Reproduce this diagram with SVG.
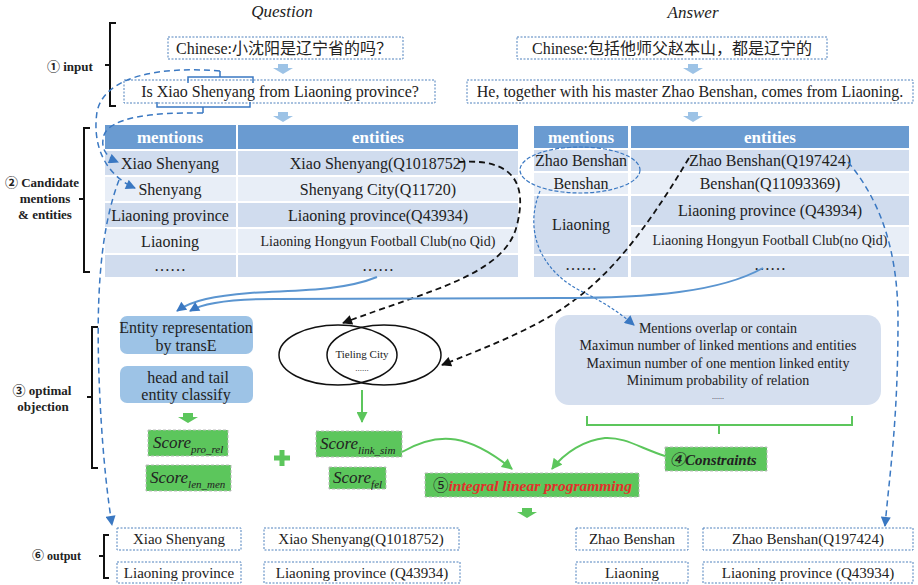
<svg xmlns="http://www.w3.org/2000/svg" width="918" height="585" viewBox="0 0 918 585">
<style>
.t{font-family:"Liberation Serif","Noto Sans CJK SC",serif;fill:#222;font-size:16px}
.c{text-anchor:middle}
.b{font-weight:bold}
.i{font-style:italic}
.hd{fill:#fff;font-weight:bold;font-size:17px}
.dk{fill:#D0DCEE}
.lt{fill:#E8EEF7}
.hb{fill:#6A9BD1}
.ib{fill:#fff;stroke:#4F81BD;stroke-width:1;stroke-dasharray:2,1.5}
.gb{fill:#5CC65C;stroke:#bbb;stroke-width:1;stroke-dasharray:3,2}
.rb{fill:#9DC3E6}
.cb{fill:#D5DFEF}
.bd{fill:none;stroke:#3A78C2;stroke-width:1.5;stroke-dasharray:6,4}
.bf{fill:none;stroke:#3A78C2;stroke-width:1.2;stroke-dasharray:3,2}
.bs{fill:none;stroke:#5B95D0;stroke-width:2}
.kd{fill:none;stroke:#111;stroke-width:1.8;stroke-dasharray:6,4}
.gl{fill:none;stroke:#5CC65C;stroke-width:2}
.br{fill:none;stroke:#111;stroke-width:2}
.bb{fill:none;stroke:#3A78C2;stroke-width:1.5}
.la{fill:#9DC3E6}
.ga{fill:#5CC65C}
</style>
<defs>
<marker id="ab" viewBox="0 0 10 10" refX="9" refY="5" markerWidth="11" markerHeight="10" markerUnits="userSpaceOnUse" orient="auto"><path d="M0,0 L10,5 L0,10 z" fill="#3A78C2"/></marker>
<marker id="ak" viewBox="0 0 10 10" refX="9" refY="5" markerWidth="11" markerHeight="10" markerUnits="userSpaceOnUse" orient="auto"><path d="M0,0 L10,5 L0,10 z" fill="#111"/></marker>
<marker id="ag" viewBox="0 0 10 10" refX="9" refY="5" markerWidth="12" markerHeight="11" markerUnits="userSpaceOnUse" orient="auto"><path d="M0,0 L10,5 L0,10 z" fill="#5CC65C"/></marker>
</defs>

<g id="titles">
<text class="t i c" x="282" y="17" style="font-size:17px">Question</text>
<text class="t i c" x="693" y="18" style="font-size:17px">Answer</text>
</g>

<g id="labels">
<path class="br" d="M116,23 H110 V106 H116 M110,65 H105"/>
<text class="t b" x="47" y="71" style="font-size:13px">① input</text>
<path class="br" d="M90,128 H84 V272 H90 M84,199 H79"/>
<text class="t b c" x="42" y="187" style="font-size:13px">② Candidate</text>
<text class="t b c" x="45" y="203" style="font-size:13px">mentions</text>
<text class="t b c" x="45" y="219" style="font-size:13px">&amp; entities</text>
<path class="br" d="M98,327 H92 V468 H98 M92,397 H87"/>
<text class="t b c" x="42" y="395" style="font-size:13px">③ optimal</text>
<text class="t b c" x="43" y="411" style="font-size:13px">objection</text>
<path class="br" d="M109,535 H104 V578 H109 M104,556 H99"/>
<text class="t b" x="32" y="560" style="font-size:12px">⑥ output</text>
</g>

<g id="q-input">
<rect class="ib" x="168" y="37" width="235" height="22"/>
<text class="t c" x="284" y="54">Chinese:小沈阳是辽宁省的吗？</text>
<path class="la" d="M278,64 h10 v4 h5 l-10,6 l-10,-6 h5 z"/>
<rect class="ib" x="124" y="80" width="311" height="23"/>
<text class="t c" x="280" y="97">Is Xiao Shenyang from Liaoning province?</text>
<path class="la" d="M278,112 h10 v4 h5 l-10,6 l-10,-6 h5 z"/>
<path class="bb" d="M188,83 V77 H253 V83 M220,77 V71"/>
<path class="bb" d="M157,102 V107 H250 V102 M203,107 V113"/>
</g>

<g id="a-input">
<rect class="ib" x="517" y="37" width="310" height="22"/>
<text class="t c" x="672" y="54">Chinese:包括他师父赵本山，都是辽宁的</text>
<path class="la" d="M688,64 h10 v4 h5 l-10,6 l-10,-6 h5 z"/>
<rect class="ib" x="467" y="80" width="446" height="23"/>
<text class="t c" x="690" y="97">He, together with his master Zhao Benshan, comes from Liaoning.</text>
<path class="la" d="M688,112 h10 v4 h5 l-10,6 l-10,-6 h5 z"/>
</g>

<g id="q-table">
<rect class="hb" x="105" y="125" width="131" height="24"/>
<rect class="hb" x="238" y="125" width="280" height="24"/>
<text class="t hd c" x="170" y="143">mentions</text>
<text class="t hd c" x="378" y="143">entities</text>
<rect class="dk" x="105" y="151" width="131" height="24"/><rect class="dk" x="238" y="151" width="280" height="24"/>
<rect class="lt" x="105" y="177" width="131" height="24"/><rect class="lt" x="238" y="177" width="280" height="24"/>
<rect class="dk" x="105" y="203" width="131" height="24"/><rect class="dk" x="238" y="203" width="280" height="24"/>
<rect class="lt" x="105" y="229" width="131" height="24"/><rect class="lt" x="238" y="229" width="280" height="24"/>
<rect class="dk" x="105" y="255" width="131" height="22"/><rect class="dk" x="238" y="255" width="280" height="22"/>
<text class="t c" x="170" y="169">Xiao Shenyang</text>
<text class="t c" x="378" y="169">Xiao Shenyang(Q1018752)</text>
<text class="t c" x="170" y="195">Shenyang</text>
<text class="t c" x="378" y="195">Shenyang City(Q11720)</text>
<text class="t c" x="170" y="221">Liaoning province</text>
<text class="t c" x="378" y="221">Liaoning province(Q43934)</text>
<text class="t c" x="170" y="247">Liaoning</text>
<text class="t c" x="378" y="246" style="font-size:14px">Liaoning Hongyun Football Club(no Qid)</text>
<text class="t c" x="170" y="271">……</text>
<text class="t c" x="378" y="271">……</text>
</g>

<g id="a-table">
<rect class="hb" x="534" y="126" width="94" height="22"/>
<rect class="hb" x="631" y="126" width="278" height="22"/>
<text class="t hd c" x="581" y="143">mentions</text>
<text class="t hd c" x="770" y="143">entities</text>
<rect class="dk" x="534" y="150" width="94" height="21"/><rect class="dk" x="631" y="150" width="278" height="21"/>
<rect class="lt" x="534" y="173" width="94" height="21"/><rect class="lt" x="631" y="173" width="278" height="21"/>
<rect class="dk" x="534" y="196" width="94" height="58"/><rect class="dk" x="631" y="196" width="278" height="29"/>
<rect class="lt" x="631" y="227" width="278" height="27"/>
<rect class="dk" x="534" y="256" width="94" height="21"/><rect class="dk" x="631" y="256" width="278" height="21"/>
<text class="t c" x="581" y="166">Zhao Benshan</text>
<text class="t c" x="770" y="166">Zhao Benshan(Q197424)</text>
<text class="t c" x="581" y="189">Benshan</text>
<text class="t c" x="770" y="189">Benshan(Q11093369)</text>
<text class="t c" x="581" y="230">Liaoning</text>
<text class="t c" x="770" y="216">Liaoning province (Q43934)</text>
<text class="t c" x="770" y="245" style="font-size:14px">Liaoning Hongyun Football Club(no Qid)</text>
<text class="t c" x="581" y="270">……</text>
<text class="t c" x="770" y="270">……</text>
<ellipse class="bf" cx="580" cy="170" rx="60" ry="23" style="stroke-dasharray:4,2"/>
</g>

<g id="transe">
<rect class="rb" x="120" y="316" width="133" height="38" rx="7"/>
<text class="t c" x="186" y="333">Entity representation</text>
<text class="t c" x="186" y="351">by transE</text>
</g>
<g id="classify">
<rect class="rb" x="120" y="366" width="133" height="37" rx="7"/>
<text class="t c" x="188" y="383">head and tail</text>
<text class="t c" x="186" y="400">entity classify</text>
<path class="ga" d="M183,413 h10 v4 h5 l-10,6 l-10,-6 h5 z"/>
</g>
<g id="score-pro-rel">
<rect class="gb" x="148" y="430" width="80" height="26"/>
<text class="t i" x="153" y="448" style="font-size:17px">Score<tspan dy="5" style="font-size:11px">pro_rel</tspan></text>
</g>
<g id="score-len-men">
<rect class="gb" x="146" y="465" width="85" height="26"/>
<text class="t i" x="150" y="483" style="font-size:17px">Score<tspan dy="5" style="font-size:11px">len_men</tspan></text>
</g>
<g id="plus">
<path class="ga" d="M279.5,450 h5 v5.5 h5.5 v5 h-5.5 v5.5 h-5 v-5.5 h-5.5 v-5 h5.5 z"/>
</g>
<g id="venn">
<ellipse cx="338" cy="355" rx="59" ry="30" fill="none" stroke="#111" stroke-width="1.5"/>
<ellipse cx="384" cy="355" rx="57" ry="30" fill="none" stroke="#111" stroke-width="1.5"/>
<text class="t c" x="362" y="358" style="font-size:11px">Tieling City</text>
<text class="t c" x="362" y="371" style="font-size:9px">......</text>
</g>
<g id="score-link-sim">
<rect class="gb" x="316" y="431" width="86" height="26"/>
<text class="t i" x="320" y="449" style="font-size:17px">Score<tspan dy="5" style="font-size:11px">link_sim</tspan></text>
</g>
<g id="score-fel">
<rect class="gb" x="329" y="467" width="57" height="22"/>
<text class="t i" x="333" y="483" style="font-size:17px">Score<tspan dy="5" style="font-size:11px">fel</tspan></text>
</g>
<g id="constraint-list">
<rect class="cb" x="555" y="315" width="326" height="90" rx="14"/>
<text class="t c" x="718" y="333" style="font-size:14px">Mentions overlap or contain</text>
<text class="t c" x="718" y="350" style="font-size:14px">Maximun number of linked mentions and entities</text>
<text class="t c" x="718" y="368" style="font-size:14px">Maximun number of one mention linked entity</text>
<text class="t c" x="718" y="385" style="font-size:14px">Minimum probability of relation</text>
<text class="t c" x="718" y="399" style="font-size:8px">......</text>
<path class="gl" d="M587,416 V425 H852 V416 M719,425 V434"/>
</g>
<g id="constraints">
<rect class="gb" x="665" y="447" width="102" height="24"/>
<text class="t b i" x="670" y="465" style="font-size:15px">④Constraints</text>
</g>
<g id="ilp">
<rect class="gb" x="425" y="473" width="214" height="24"/>
<text class="t b i" x="433" y="491" style="font-size:15.5px"><tspan style="font-style:normal;font-weight:normal">⑤</tspan><tspan style="fill:#E3302B">integral linear programming</tspan></text>
<path class="ga" d="M522,508 h10 v4 h5 l-10,6 l-10,-6 h5 z"/>
</g>

<g id="output">
<rect class="ib" x="117" y="528" width="124" height="22"/>
<text class="t c" x="179" y="544" style="font-size:15px">Xiao Shenyang</text>
<rect class="ib" x="264" y="528" width="195" height="22"/>
<text class="t c" x="361" y="544" style="font-size:15px">Xiao Shenyang(Q1018752)</text>
<rect class="ib" x="117" y="562" width="124" height="21"/>
<text class="t c" x="179" y="578" style="font-size:15px">Liaoning province</text>
<rect class="ib" x="264" y="562" width="196" height="21"/>
<text class="t c" x="362" y="578" style="font-size:15px">Liaoning province (Q43934)</text>
<rect class="ib" x="576" y="528" width="112" height="22"/>
<text class="t c" x="632" y="544" style="font-size:15px">Zhao Benshan</text>
<rect class="ib" x="703" y="528" width="210" height="22"/>
<text class="t c" x="808" y="544" style="font-size:15px">Zhao Benshan(Q197424)</text>
<rect class="ib" x="576" y="562" width="112" height="21"/>
<text class="t c" x="632" y="578" style="font-size:15px">Liaoning</text>
<rect class="ib" x="703" y="562" width="210" height="21"/>
<text class="t c" x="808" y="578" style="font-size:15px">Liaoning province (Q43934)</text>
</g>

<g id="connectors">
<path class="bd" d="M220,71 C160,66 104,76 97,112 C92,145 105,175 135,188" marker-end="url(#ab)"/>
<path class="bd" d="M203,113 C150,112 110,118 104,135 C100,148 106,157 118,162" marker-end="url(#ab)"/>
<path class="bd" d="M119,180 C100,230 95,300 100,400 C103,460 108,500 112,525" marker-end="url(#ab)"/>
<path class="bd" d="M848,162 C880,200 898,250 898,320 C898,420 890,470 885,526" marker-end="url(#ab)"/>
<path class="bf" d="M540,191 C522,235 545,275 585,293 C605,303 620,313 634,325" marker-end="url(#ab)"/>
<path class="kd" d="M459,162 C515,158 527,185 517,225 C505,275 430,290 343,323" marker-end="url(#ak)"/>
<path class="kd" d="M689,158 C640,240 600,290 540,322 C510,338 480,350 442,365" marker-end="url(#ak)"/>
<path class="bs" d="M377,277 C340,292 290,290 250,293 C215,296 192,300 177,311" marker-end="url(#ab)"/>
<path class="bs" d="M763,268 C720,292 650,298 560,298 L275,299 C235,299 205,302 190,311" marker-end="url(#ab)"/>
<path class="gl" d="M362,390 L362,422" marker-end="url(#ag)"/>
<path class="gl" d="M402,452 C440,430 470,435 512,469" marker-end="url(#ag)"/>
<path class="gl" d="M665,456 C640,448 625,437 605,438 C585,440 565,452 552,469" marker-end="url(#ag)"/>
</g>
</svg>
